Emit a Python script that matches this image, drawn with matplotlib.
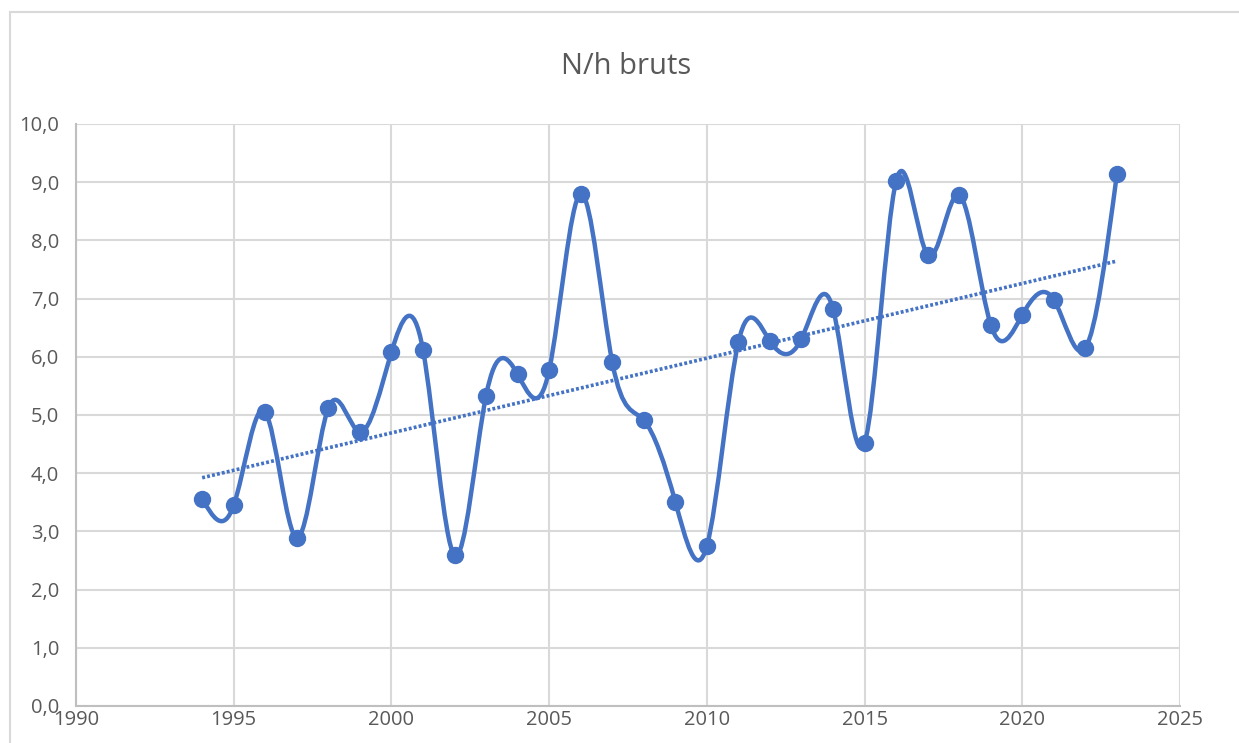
import numpy as np
import matplotlib.pyplot as plt
from matplotlib.path import Path
from matplotlib.patches import PathPatch, Rectangle

years = [1994, 1995, 1996, 1997, 1998, 1999, 2000, 2001, 2002, 2003,
         2004, 2005, 2006, 2007, 2008, 2009, 2010, 2011, 2012, 2013,
         2014, 2015, 2016, 2017, 2018, 2019, 2020, 2021, 2022, 2023]
values = [3.56, 3.45, 5.05, 2.89, 5.12, 4.71, 6.08, 6.12, 2.59, 5.33,
          5.70, 5.77, 8.80, 5.91, 4.91, 3.51, 2.75, 6.25, 6.27, 6.31,
          6.82, 4.52, 9.02, 7.75, 8.78, 6.55, 6.72, 6.98, 6.15, 9.14]

title = "N/h bruts"
blue = "#4472C4"
grey_text = "#595959"

plt.rcParams['font.family'] = ['Open Sans', 'DejaVu Sans']

fig = plt.figure(figsize=(12.39, 7.43), dpi=100)
fig.patches.append(Rectangle((10 / 1239, -0.1), 1.2, 1.1 - 12 / 743,
                             transform=fig.transFigure, fill=False,
                             edgecolor="#d9d9d9", linewidth=1.5))
ax = fig.add_axes([76 / 1239, 37 / 743, 1104 / 1239, 582 / 743])

# smoothed line: natural cubic spline, drawn as bezier segments
x = np.array(years, dtype=float)
y = np.array(values, dtype=float)
n = len(x)
h = np.diff(x)
A = np.zeros((n, n))
r = np.zeros(n)
A[0, 0] = A[-1, -1] = 1
for i in range(1, n - 1):
    A[i, i - 1] = h[i - 1]
    A[i, i] = 2 * (h[i - 1] + h[i])
    A[i, i + 1] = h[i]
    r[i] = 6 * ((y[i + 1] - y[i]) / h[i] - (y[i] - y[i - 1]) / h[i - 1])
M = np.linalg.solve(A, r)
slope = np.zeros(n)
slope[:-1] = (y[1:] - y[:-1]) / h - h * (2 * M[:-1] + M[1:]) / 6
slope[-1] = (y[-1] - y[-2]) / h[-1] + h[-1] * (M[-2] + 2 * M[-1]) / 6

verts = [(x[0], y[0])]
codes = [Path.MOVETO]
for i in range(n - 1):
    d = h[i] / 3
    verts += [(x[i] + d, y[i] + slope[i] * d),
              (x[i + 1] - d, y[i + 1] - slope[i + 1] * d),
              (x[i + 1], y[i + 1])]
    codes += [Path.CURVE4] * 3
ax.add_patch(PathPatch(Path(verts, codes), facecolor="none", edgecolor=blue,
                       linewidth=3.2, capstyle="round", joinstyle="round", zorder=3))
ax.plot(x, y, "o", color=blue, markersize=11.5, zorder=4)

# linear trend
a, b = np.polyfit(x, y, 1)
ax.plot([x[0], x[-1]], [a * x[0] + b, a * x[-1] + b], color=blue,
        linewidth=2.6, linestyle=(0, (0.8, 0.6)), zorder=2)

ax.set_xlim(1990, 2025)
ax.set_ylim(0, 10)
ax.set_xticks(range(1990, 2026, 5))
ax.set_yticks(range(0, 11))
ax.set_yticklabels([f"{v},0" for v in range(0, 11)])
ax.grid(True, color="#d9d9d9", linewidth=1.5)
ax.set_axisbelow(True)
for s in ["top", "right"]:
    ax.spines[s].set_visible(False)
for s in ["left", "bottom"]:
    ax.spines[s].set_color("#bfbfbf")
    ax.spines[s].set_linewidth(1.5)
ax.tick_params(length=0, labelsize=14.5, labelcolor=grey_text)
ax.tick_params(axis="y", pad=12)
ax.tick_params(axis="x", pad=3)

fig.text(0.505, 1 - 66 / 743, title, ha="center", va="center",
         fontsize=21, color=grey_text)

fig.savefig("out.png", dpi=100)
